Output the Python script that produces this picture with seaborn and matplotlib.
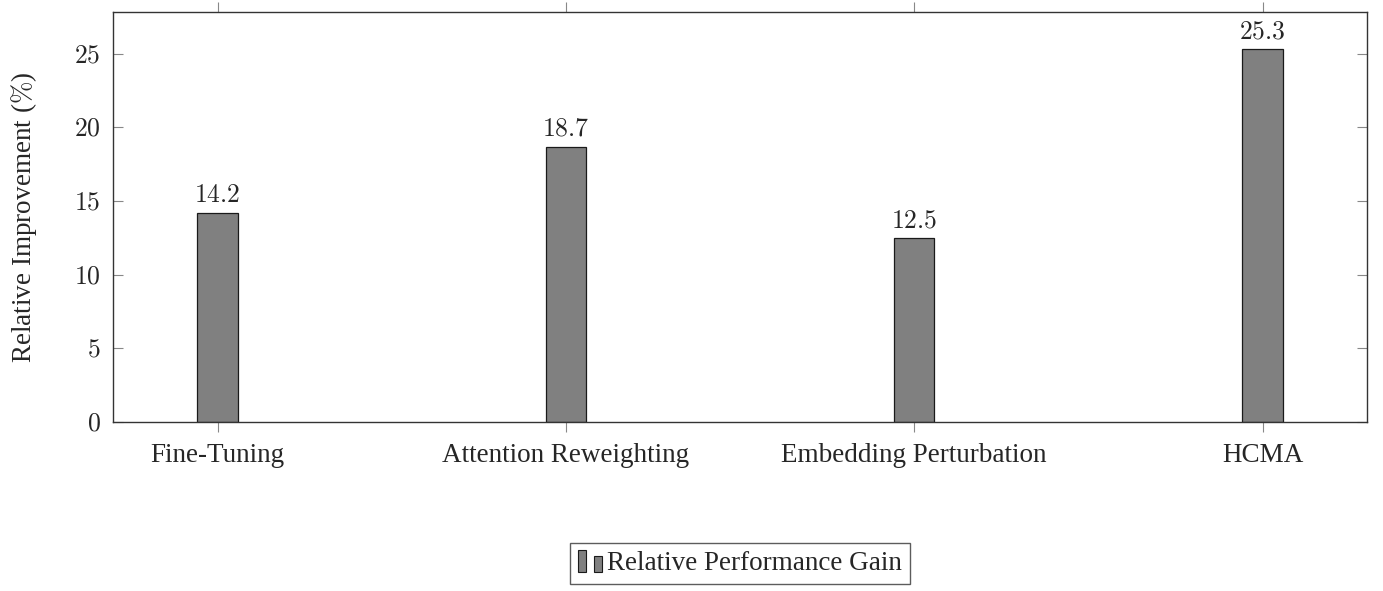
import matplotlib
matplotlib.use("Agg")
import matplotlib.pyplot as plt
import seaborn as sns
import pandas as pd
from matplotlib.patches import Rectangle
from matplotlib.legend_handler import HandlerBase

categories = ["Fine-Tuning", "Attention Reweighting", "Embedding Perturbation", "HCMA"]
values = [14.2, 18.7, 12.5, 25.3]
yticks = [0, 5, 10, 15, 20, 25]
series_name = "Relative Performance Gain"
ylabel = r"Relative Improvement ($\%$)"

sns.set_theme(style="white")
plt.rcParams["font.family"] = ["Liberation Serif", "DejaVu Serif"]
plt.rcParams["mathtext.fontset"] = "cm"

fig = plt.figure(figsize=(13.83, 5.91), dpi=100)
ax = fig.add_axes([113 / 1383, 169 / 591, (1367 - 113) / 1383, (422 - 12) / 591])

df = pd.DataFrame({"cat": categories, "val": values})
sns.barplot(data=df, x="cat", y="val", ax=ax, color="#808080", saturation=1,
            width=0.115, edgecolor="#1a1a1a", linewidth=0.9)

ax.set_xlim(-0.3, 3.3)
ax.set_ylim(0, 27.83)
ax.set_yticks(yticks)
ax.set_yticklabels([f"${t}$" for t in yticks], fontsize=18.5)
ax.set_xticks(range(len(categories)))
ax.set_xticklabels(categories, fontsize=19.5)
ax.set_xlabel("")
ax.set_ylabel(ylabel, fontsize=19.5, labelpad=25)

for s in ax.spines.values():
    s.set_visible(True)
    s.set_color("#333333")
    s.set_linewidth(1.0)

ax.tick_params(axis="y", which="both", direction="in", left=True, right=True,
               length=7, width=0.8, color="#888888", pad=9)
ax.tick_params(axis="x", which="both", direction="out", bottom=True, top=True,
               length=7, width=0.8, color="#888888", pad=8)

for cont in ax.containers:
    ax.bar_label(cont, labels=[f"${v}$" for v in values], padding=4, fontsize=18.5)


class TwoBarHandler(HandlerBase):
    def create_artists(self, legend, orig_handle, xdescent, ydescent, width, height, fontsize, trans):
        w = width * 0.31
        y0 = -ydescent - 0.1 * height
        r1 = Rectangle((-xdescent, y0), w, height * 1.16,
                       facecolor="#808080", edgecolor="#1a1a1a", lw=0.8, transform=trans)
        r2 = Rectangle((-xdescent + width * 0.62, y0), w, height * 0.84,
                       facecolor="#808080", edgecolor="#1a1a1a", lw=0.8, transform=trans)
        return [r1, r2]


handle = Rectangle((0, 0), 1, 1, facecolor="#808080")
leg = fig.legend([handle], [series_name], handler_map={Rectangle: TwoBarHandler()},
                 loc="center", bbox_to_anchor=(740 / 1383, 0.047), fontsize=19.5,
                 frameon=True, fancybox=False, handlelength=0.95, handletextpad=0.15,
                 borderpad=0.3, borderaxespad=0)
leg.get_frame().set_edgecolor("#333333")
leg.get_frame().set_linewidth(1.0)

fig.savefig("out.png", dpi=100)
